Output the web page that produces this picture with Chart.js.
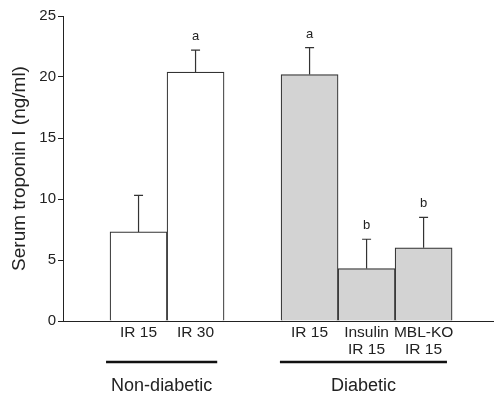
<!DOCTYPE html>
<html>
<head>
<meta charset="utf-8">
<script src="https://cdn.jsdelivr.net/npm/chart.js@4"></script>
<style>
  html, body { margin: 0; padding: 0; background: #fff; }
  #wrap { width: 494px; height: 398px; }
</style>
</head>
<body>
<div id="wrap"><canvas id="chart"></canvas></div>
<script>
// Serum troponin I by group
const categories = ['IR 15', 'IR 30', 'IR 15', ['Insulin', 'IR 15'], ['MBL-KO', 'IR 15']];
const slots = [1, 2, 4, 5, 6];
const troponin = [7.3, 20.4, 20.2, 4.3, 6.0];
const sem = [3.0, 1.8, 2.2, 2.4, 2.5];
const letters = ['', 'a', 'a', 'b', 'b'];
const yTicks = [0, 5, 10, 15, 20, 25];
const groups = [
    { label: 'Non-diabetic', from: 0.43, to: 2.38 },
    { label: 'Diabetic', from: 3.48, to: 6.41 },
];

const COLORS = {
    nonDiabetic: '#ffffff',
    diabetic: '#d3d3d3',
    edge: '#333333',
    text: '#222222',
};
const FONT = "'Liberation Sans', Arial, sans-serif";

const errorBars = {
    id: 'errorBars',
    afterDatasetsDraw(chart) {
        const { ctx, scales: { x, y } } = chart;
        ctx.save();
        ctx.strokeStyle = COLORS.edge;
        ctx.lineWidth = 1.2;
        ctx.fillStyle = COLORS.text;
        ctx.font = `13px ${FONT}`;
        ctx.textAlign = 'center';
        ctx.textBaseline = 'alphabetic';
        slots.forEach((s, i) => {
            const px = x.getPixelForValue(s);
            const yBar = y.getPixelForValue(troponin[i]);
            const yTop = y.getPixelForValue(troponin[i] + sem[i]);
            ctx.beginPath();
            ctx.moveTo(px, yBar);
            ctx.lineTo(px, yTop);
            ctx.moveTo(px - 4.5, yTop);
            ctx.lineTo(px + 4.5, yTop);
            ctx.stroke();
            if (letters[i]) ctx.fillText(letters[i], px, yTop - 10);
        });
        ctx.restore();
    },
};

const groupLabels = {
    id: 'groupLabels',
    afterDraw(chart) {
        const { ctx, chartArea, scales: { x } } = chart;
        ctx.save();
        ctx.strokeStyle = '#111';
        ctx.lineWidth = 2.5;
        ctx.fillStyle = COLORS.text;
        ctx.font = `18px ${FONT}`;
        ctx.textAlign = 'center';
        ctx.textBaseline = 'middle';
        for (const g of groups) {
            const x0 = x.getPixelForValue(g.from);
            const x1 = x.getPixelForValue(g.to);
            ctx.beginPath();
            ctx.moveTo(x0, chartArea.bottom + 41);
            ctx.lineTo(x1, chartArea.bottom + 41);
            ctx.stroke();
            ctx.fillText(g.label, (x0 + x1) / 2, chartArea.bottom + 65);
        }
        ctx.restore();
    },
};

new Chart(document.getElementById('chart'), {
    type: 'bar',
    data: {
        datasets: [{
            data: slots.map((s, i) => ({ x: s, y: troponin[i] })),
            backgroundColor: slots.map((s, i) => i < 2 ? COLORS.nonDiabetic : COLORS.diabetic),
            borderColor: COLORS.edge,
            borderWidth: 1.2,
            barPercentage: 1,
            categoryPercentage: 1,
        }],
    },
    options: {
        responsive: true,
        maintainAspectRatio: false,
        animation: false,
        layout: { padding: { top: 16, right: 0, bottom: 0, left: 0 } },
        plugins: {
            legend: { display: false },
            tooltip: { enabled: false },
        },
        scales: {
            x: {
                type: 'linear',
                offset: false,
                min: -0.325,
                max: 7.235,
                afterBuildTicks: (scale) => { scale.ticks = slots.map(v => ({ value: v })); },
                afterFit: (scale) => { scale.height = 77; },
                grid: { display: true, drawOnChartArea: false, drawTicks: false },
                border: { display: true, color: COLORS.text, width: 1 },
                ticks: {
                    autoSkip: false,
                    maxRotation: 0,
                    padding: 4,
                    color: COLORS.text,
                    font: { family: FONT, size: 15.5, lineHeight: 1.05 },
                    callback: (v) => categories[slots.indexOf(v)] ?? '',
                },
            },
            y: {
                min: 0,
                max: 25,
                afterBuildTicks: (scale) => { scale.ticks = yTicks.map(v => ({ value: v })); },
                afterFit: (scale) => { scale.width = 63; },
                grid: { drawOnChartArea: false, drawTicks: true, tickLength: 5, color: COLORS.text },
                border: { display: true, color: COLORS.text, width: 1 },
                ticks: {
                    padding: 2,
                    color: COLORS.text,
                    font: { family: FONT, size: 15 },
                },
                title: {
                    display: true,
                    text: 'Serum troponin I (ng/ml)',
                    color: COLORS.text,
                    font: { family: FONT, size: 19 },
                    padding: { top: 8, bottom: 0 },
                },
            },
        },
    },
    plugins: [errorBars, groupLabels],
});
</script>
</body>
</html>
